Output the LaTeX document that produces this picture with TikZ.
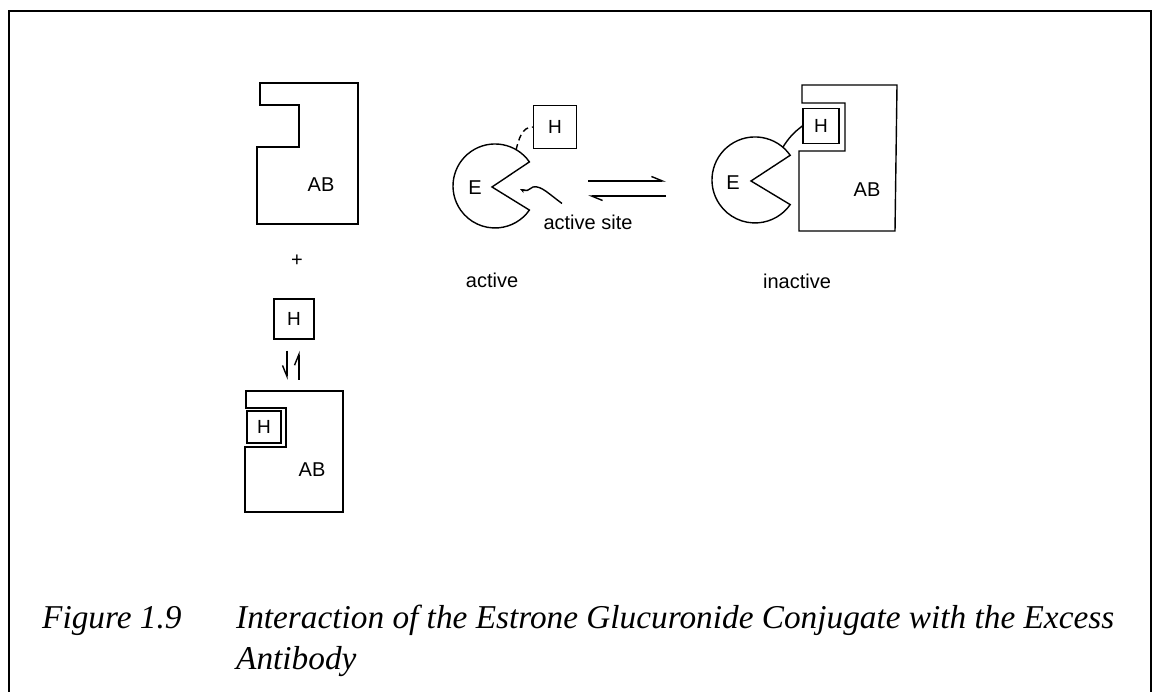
\documentclass[tikz,border=0pt]{standalone}
\usepackage{fontspec}
\setmainfont{Liberation Serif}
\setsansfont{Liberation Sans}
\usetikzlibrary{positioning,arrows.meta}
\tikzset{
  lbl/.style={font=\sffamily\fontsize{20}{24}\selectfont, inner sep=0pt},
  hbox/.style={draw, line width=1.4pt, minimum size=40pt, inner sep=0pt, font=\sffamily\fontsize{19}{22}\selectfont},
  shp/.style={line width=1.4pt},
  captxt/.style={anchor=base west, inner sep=0pt, font=\itshape\fontsize{33.3}{38}\selectfont},
  harpl/.style={line width=1.4pt, -{Straight Barb[left, length=11pt, width=9pt]}},
  harpr/.style={line width=1.4pt, -{Straight Barb[right, length=11pt, width=9pt]}}
}
\begin{document}
\begin{tikzpicture}[x=1pt, y=1pt]
\useasboundingbox (0,0) rectangle (1153,692);
% frame
\draw[line width=1.6pt] (9,0) -- (9,681) -- (1151,681) -- (1151,0);
% antibody alone
\draw[shp] (260,609) -- (358,609) -- (358,468) -- (257,468) -- (257,545) -- (299,545) -- (299,587) -- (260,587) -- cycle;
\node[lbl] (ab1) at (321,507) {AB};
\node[lbl] (plus) at (297,431) {+};
\node[hbox] (h1) at (294,373) {H};
% antibody with bound hapten
\draw[shp] (246,301) -- (343,301) -- (343,180) -- (245,180) -- (245,245) -- (286,245) -- (286,284) -- (246,284) -- cycle;
\coordinate (ab2top) at (294,301);
\node[hbox, minimum width=34pt, minimum height=32pt] (h4) at (264,265) {H};
\node[lbl] (ab2) at (312,222) {AB};
\draw[harpr] ([xshift=-7pt,yshift=-11pt]h1.south) -- ([xshift=-7pt,yshift=11pt]ab2top);
\draw[harpl] ([xshift=5pt,yshift=11pt]ab2top) -- ([xshift=5pt,yshift=-11pt]h1.south);
% (a) active enzyme
\draw[shp] (492,505) -- (529.4,530.1) arc[start angle=35, end angle=325, radius=42] -- cycle;
\node[lbl] (e1) at (475,504) {E};
\node[hbox, minimum size=43pt] (h2) at (555,565) {H};
\coordinate (e1top) at (516,542);
\draw[shp, dash pattern=on 6pt off 4pt] (e1top) to[out=75, in=180] (h2.west);
\node[lbl] (asite) at (588,470) {active site};
\coordinate (site) at (520,503);
\draw[shp, -{Stealth[length=5pt, width=4pt]}] ([shift={(-26pt,11pt)}]asite.north) .. controls (550,497) and (541,507) .. (533,505) .. controls (528,502) and (526,500) .. (site);
\node[lbl] (act) at (492,412) {active};
% equilibrium
\coordinate (eqa) at (588,511);
\coordinate (eqb) at (666,511);
\coordinate (eqc) at (666,496);
\coordinate (eqd) at (588,496);
\draw[harpl] (eqa) -- (eqb);
\draw[harpl] (eqc) -- (eqd);
% (b) inactive complex
\draw[shp] (802,589) -- (802,607) -- (897,607) -- (895,461) -- (799,461) -- (799,541) -- (845,541) -- (845,589) -- cycle;
\node[hbox, minimum width=36pt, minimum height=35pt] (h3) at (821,566) {H};
\node[lbl] (ab3) at (867,502) {AB};
\draw[shp] (751,511) -- (790.2,536.7) arc[start angle=35, end angle=325, radius=43] -- cycle;
\node[lbl] (e2) at (733,509) {E};
\coordinate (e2top) at (783,545);
\draw[shp] (e2top) to[bend left=10] (h3.west);
\node[lbl] (inact) at (797,411) {inactive};
% caption
\node[captxt] (fig) at (42,63) {Figure 1.9};
\node[captxt] (capa) at (236,63) {Interaction of the Estrone Glucuronide Conjugate with the Excess};
\node[captxt] (capb) at (236,22) {Antibody};
\end{tikzpicture}
\end{document}
